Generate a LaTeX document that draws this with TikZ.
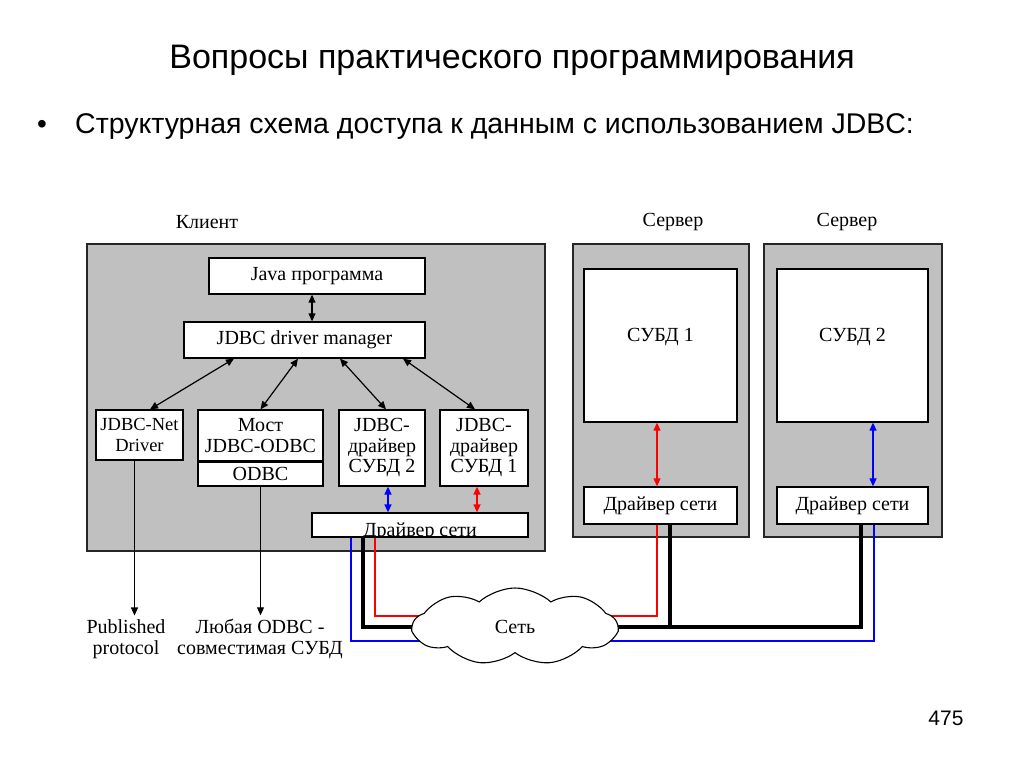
\documentclass[tikz,border=0pt]{standalone}
\usepackage{fontspec}
\setmainfont{Liberation Serif}
\newfontfamily\headfont{Liberation Sans}
\usetikzlibrary{
    arrows.meta,
    shapes.symbols,
    positioning,
    calc
}
\definecolor{panelgray}{RGB}{192,192,192}
\newcommand{\diagfont}{\fontsize{20}{20.5}\selectfont}
\tikzset{
    panel/.style={draw=black!85, line width=1.8pt, fill=panelgray, inner sep=0pt},
    box/.style={draw, line width=1.3pt, fill=white, inner sep=0pt, font=\diagfont, align=center},
    link/.style={{Triangle[length=8pt,width=7pt]}-{Triangle[length=8pt,width=7pt]}, line width=1.2pt},
    down/.style={-{Triangle[length=8pt,width=7pt]}, line width=1.2pt},
    bus/.style={line width=4pt},
    wire/.style={line width=1.1pt},
    net/.style={cloud, cloud puffs=9, cloud puff arc=85, aspect=2.6, minimum width=204pt, minimum height=77pt}
}
\begin{document}
\begin{tikzpicture}[x=1pt, y=-1pt]
\useasboundingbox[fill=white] (0,0) rectangle (1024,767);
% headings
\node[font=\headfont\fontsize{34}{38}\selectfont] (title) at (512,60) {Вопросы практического программирования};
\node[font=\headfont\fontsize{28}{32}\selectfont] (dot) at (42,127) {•};
\node[font=\headfont\fontsize{28.5}{32}\selectfont, anchor=west, inner sep=0pt] (sub) at (75,127) {Структурная схема доступа к данным с использованием JDBC:};
\node[font=\headfont\fontsize{21}{24}\selectfont] (page) at (946,718) {475};

% client side
\node[font=\diagfont] (client) at (207,222) {Клиент};
\node[panel, minimum width=458pt, minimum height=307pt] (cpanel) at (316,397.5) {};
\node[box, minimum width=216pt, minimum height=36pt] (java) at (317,276) {Java программа};
\node[box, minimum width=241pt, minimum height=36pt] (mgr) at (304.5,340) {JDBC driver manager};
\node[box, minimum width=87pt, minimum height=50pt, font=\fontsize{18.5}{20.5}\selectfont] (net) at (139.5,435) {JDBC-Net\\Driver};
\node[box, minimum width=125pt, minimum height=51pt] (bridge) at (260.5,435.5) {Мост\\JDBC-ODBC};
\node[box, minimum width=125pt, minimum height=25pt] (odbc) at (260.5,473.5) {ODBC};
\draw[line width=2.6pt] (bridge.south west) -- (bridge.south east);
\node[box, minimum width=86pt, minimum height=76pt] (drv2) at (382,448) {JDBC-\\драйвер\\СУБД 2};
\node[box, minimum width=88pt, minimum height=76pt] (drv1) at (484,448) {JDBC-\\драйвер\\СУБД 1};
\node[box, minimum width=216pt, minimum height=24pt] (cdrv) at (420,525) {};
\begin{scope}
    \clip (cdrv.south west) rectangle (cdrv.north east);
    \node[font=\diagfont, anchor=base] (cdrvtext) at (420,536) {Драйвер сети};
\end{scope}

% servers
\node[font=\diagfont] (server1) at (673,222) {Сервер};
\node[font=\diagfont] (server2) at (847,222) {Сервер};
\node[panel, minimum width=176pt, minimum height=293pt] (spanel1) at (661,390.5) {};
\node[panel, minimum width=178pt, minimum height=293pt] (spanel2) at (853,390.5) {};
\node[box, minimum width=153pt, minimum height=153pt, label={[font=\diagfont, yshift=8pt]center:СУБД 1}] (dbms1) at (660.5,345.5) {};
\node[box, minimum width=151pt, minimum height=153pt, label={[font=\diagfont, yshift=8pt]center:СУБД 2}] (dbms2) at (852.5,345.5) {};
\node[box, minimum width=153pt, minimum height=37pt] (sdrv1) at (660.5,505.5) {Драйвер сети};
\node[box, minimum width=151pt, minimum height=37pt] (sdrv2) at (852.5,505.5) {Драйвер сети};

% arrows inside the client
\draw[link] ([xshift=-5pt]java.south) -- ([xshift=-5pt]java.south |- mgr.north);
\draw[link] ([xshift=-70.5pt]mgr.south) -- ([xshift=10.5pt]net.north);
\draw[link] ([xshift=-6.5pt]mgr.south) -- (bridge.north);
\draw[link] ([xshift=35.5pt]mgr.south) -- ([xshift=4pt]drv2.north);
\draw[link] ([xshift=98.5pt]mgr.south) -- ([xshift=-9pt]drv1.north);
\draw[link, blue, line width=1.6pt] ([xshift=6pt]drv2.south) -- ([xshift=6pt]drv2.south |- cdrv.north);
\draw[link, red, line width=1.6pt] ([xshift=-7pt]drv1.south) -- ([xshift=-7pt]drv1.south |- cdrv.north);
\draw[link, red] ([xshift=-3.5pt]dbms1.south) -- ([xshift=-3.5pt]dbms1.south |- sdrv1.north);
\draw[link, blue] ([xshift=20.5pt]dbms2.south) -- ([xshift=20.5pt]dbms2.south |- sdrv2.north);

% outputs of the client
\node[font=\diagfont, align=center, inner sep=0pt] (pub) at (126,639) {Published\\protocol};
\node[font=\diagfont, align=center, inner sep=0pt] (anydb) at (260,639) {Любая ODBC -\\совместимая СУБД};
\draw[down] ([xshift=-5pt]net.south) -- ([xshift=-5pt,yshift=4pt]net.south |- pub.north);
\draw[down] (odbc.south) -- ([yshift=4pt]odbc.south |- anydb.north);

% network
\node[net] (cloud) at (515,626.5) {};
\draw[wire, red] ([xshift=-45pt]cdrv.south) |- ([yshift=10.5pt]cloud.center) -| ([xshift=-3.5pt]sdrv1.south);
\draw[wire, blue] ([xshift=-69pt]cdrv.south) |- ([yshift=-14.5pt]cloud.center) -| ([xshift=21.5pt]sdrv2.south);
\draw[bus] ([xshift=-57pt]cdrv.south) |- (cloud.center) -| ([xshift=8.5pt]sdrv2.south);
\draw[bus] ([xshift=9.5pt]sdrv1.south) -- ([xshift=9.5pt]sdrv1.south |- cloud.center);
\node[net, draw, fill=white, line width=1.1pt, font=\diagfont] at (cloud.center) {Сеть};
\end{tikzpicture}
\end{document}
